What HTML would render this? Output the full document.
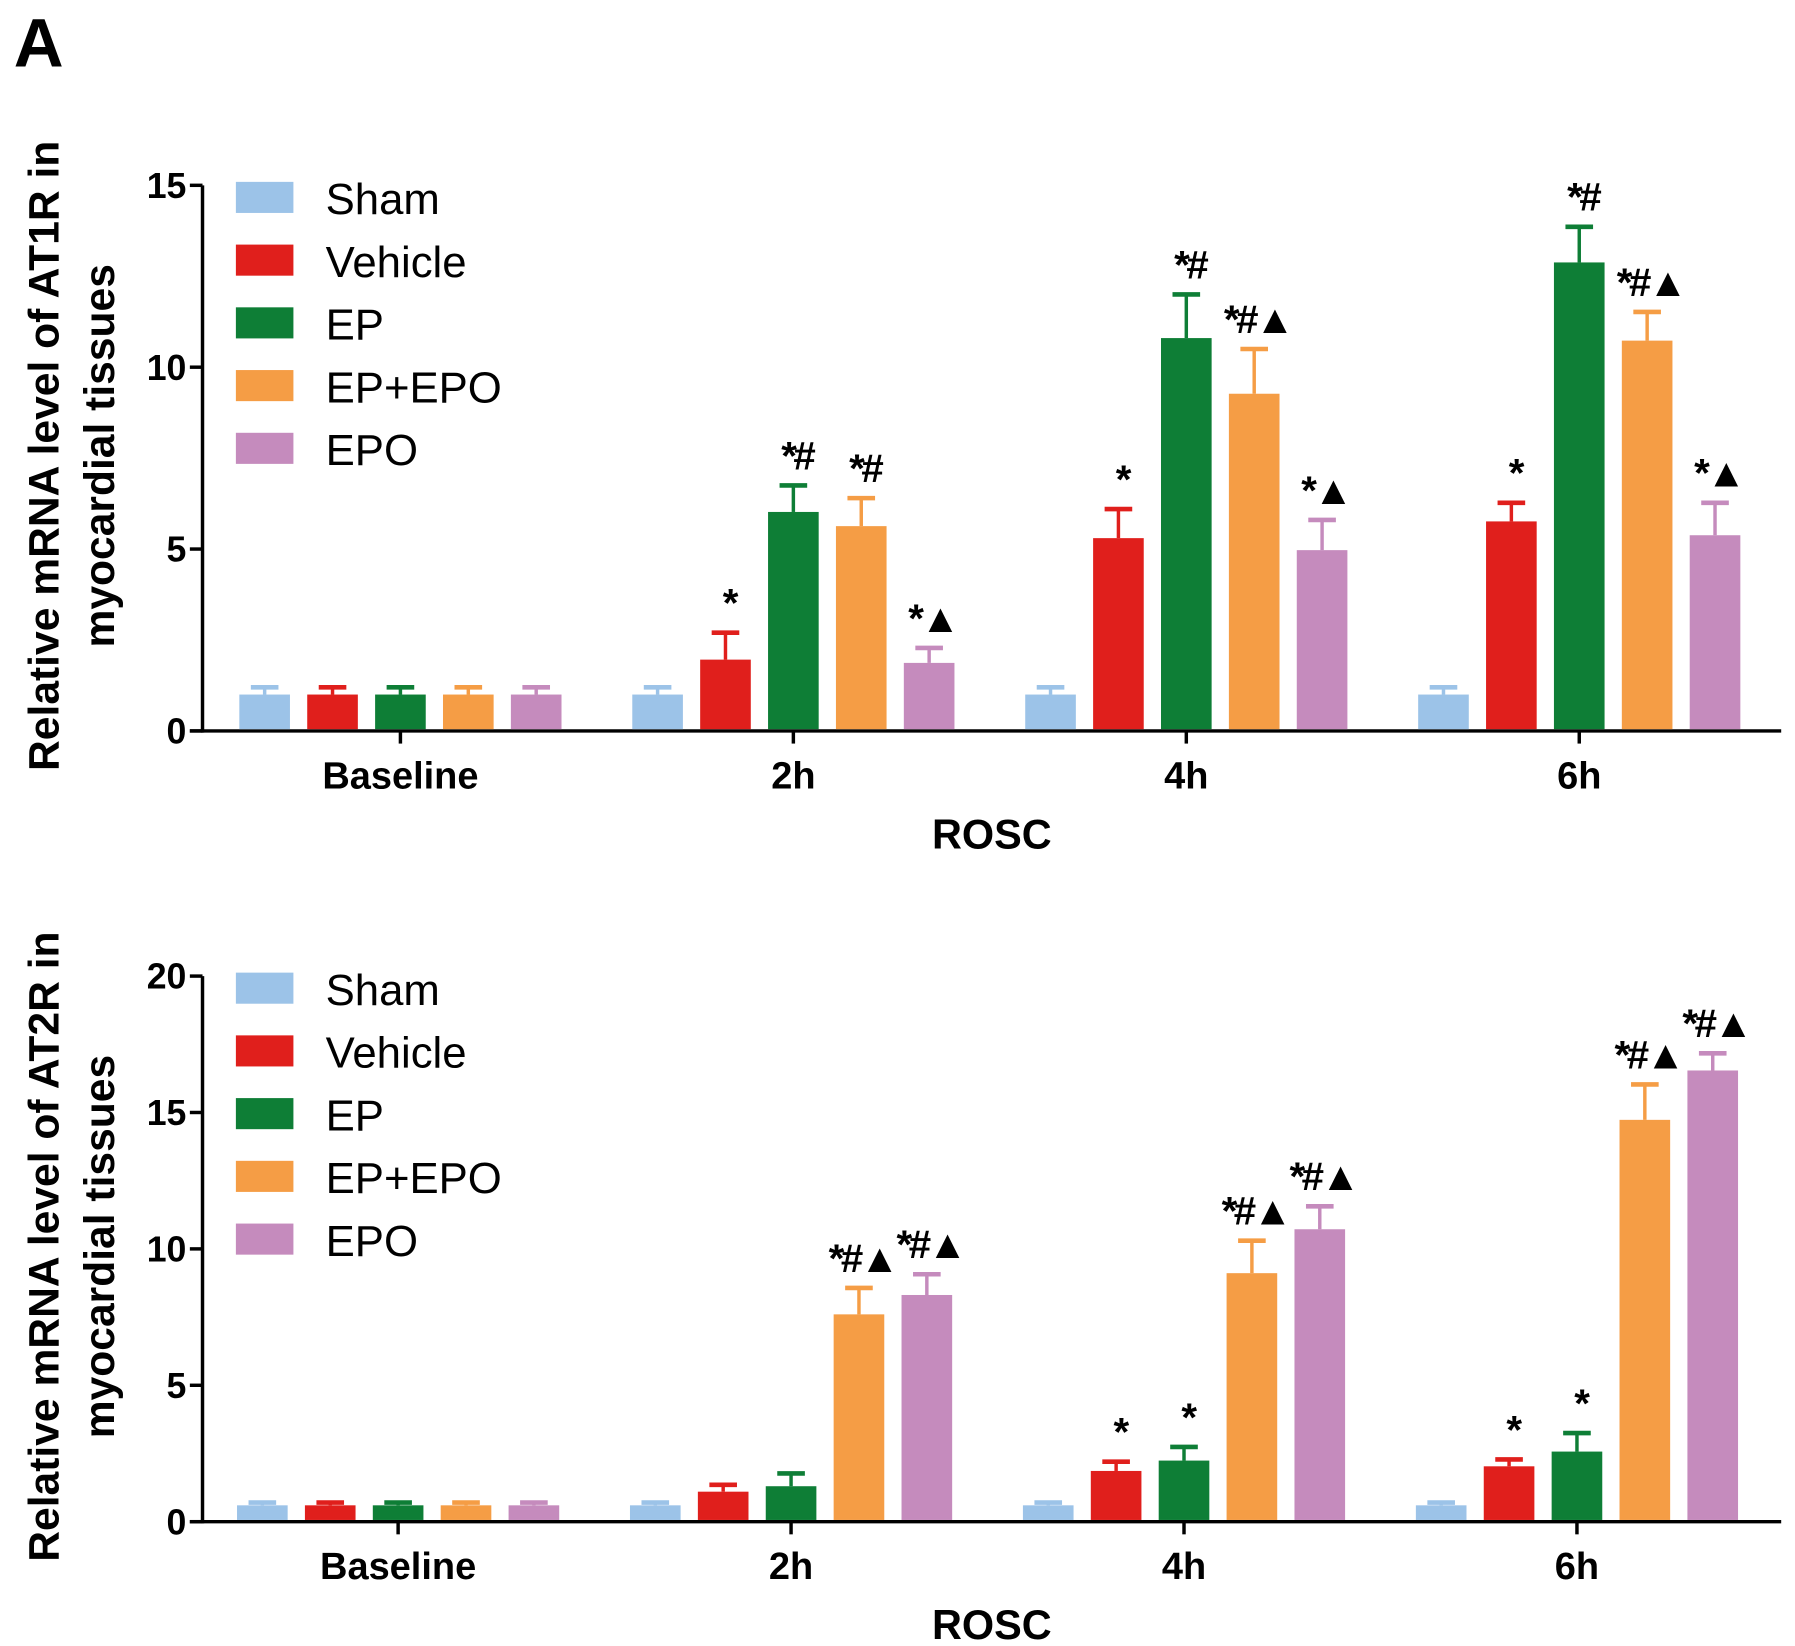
<!DOCTYPE html>
<html><head><meta charset="utf-8"><style>
html,body{margin:0;padding:0;background:#fff}
svg{display:block}
text{font-family:"Liberation Sans",Arial,sans-serif}
</style></head><body>
<svg id="fig" width="1795" height="1646" viewBox="0 0 1560 1430" preserveAspectRatio="none" xmlns="http://www.w3.org/2000/svg">
<text x="12" y="58" font-size="60" font-weight="bold">A</text>
</svg>
<script>
const categories = ["Baseline","2h","4h","6h"];
const groups = ["Sham","Vehicle","EP","EP+EPO","EPO"];
const colors = ["#9cc3e8","#e01f1c","#0e7e36","#f59d45","#c58bbd"];
// Top chart (AT1R)
const at1Sham = [1,1,1,1];
const at1Vehicle = [1,1.96,5.3,5.76];
const at1EP = [1,6.02,10.8,12.88];
const at1EPEPO = [1,5.63,9.27,10.73];
const at1EPO = [1,1.87,4.97,5.38];
const at1ErrSham=[0.2,0.2,0.2,0.2];
const at1ErrVehicle=[0.2,0.74,0.8,0.51];
const at1ErrEP=[0.2,0.73,1.2,0.98];
const at1ErrEPEPO=[0.2,0.77,1.23,0.79];
const at1ErrEPO=[0.2,0.41,0.83,0.89];
const at1Marks = [["","","","",""],["","*","*#","*#","*▲"],["","*","*#","*#▲","*▲"],["","*","*#","*#▲","*▲"]];
const at1Ticks = [0,5,10,15];
// Bottom chart (AT2R)
const at2Sham=[0.6,0.6,0.6,0.6];
const at2Vehicle=[0.6,1.1,1.86,2.03];
const at2EP=[0.6,1.3,2.24,2.57];
const at2EPEPO=[0.6,7.6,9.11,14.73];
const at2EPO=[0.6,8.31,10.72,16.54];
const at2ErrSham=[0.1,0.1,0.1,0.1];
const at2ErrVehicle=[0.1,0.25,0.34,0.25];
const at2ErrEP=[0.1,0.47,0.5,0.68];
const at2ErrEPEPO=[0.1,0.97,1.19,1.3];
const at2ErrEPO=[0.1,0.76,0.84,0.63];
const at2Marks=[["","","","",""],["","","","*#▲","*#▲"],["","*","*","*#▲","*#▲"],["","*","*","*#▲","*#▲"]];
const at2Ticks=[0,5,10,15,20];

const NS="http://www.w3.org/2000/svg";
const svg=document.getElementById('fig');
function el(tag,attrs,parent){const e=document.createElementNS(NS,tag);for(const k in attrs)e.setAttribute(k,attrs[k]);(parent||svg).appendChild(e);return e;}

function chart(cfg){
  const g=el('g',{});
  
  
  const y=v=>cfg.y0-(v/cfg.ymax)*(cfg.y0-cfg.ytop);
  const x=i=>cfg.cx0+i*341.5;
  const ya=el('line',{x1:cfg.ax,y1:cfg.ytop,x2:cfg.ax,y2:cfg.y0+1.5,stroke:'#000','stroke-width':3},g);
  
  const xa=el('line',{x1:165,y1:cfg.y0,x2:1548,y2:cfg.y0,stroke:'#000','stroke-width':3},g);
  
  cfg.ticks.forEach(t=>{
    el('line',{x1:cfg.ax-11,y1:y(t),x2:cfg.ax,y2:y(t),stroke:'#000','stroke-width':3},g);
    const tl=el('text',{x:cfg.ax-14,y:y(t)+11,'font-size':31,'font-weight':'bold','text-anchor':'end'},g);
    tl.textContent=t;
    
  });
  categories.forEach((c,i)=>{
    el('line',{x1:x(i),y1:cfg.y0,x2:x(i),y2:cfg.y0+11,stroke:'#000','stroke-width':3},g);
    const cl=el('text',{x:x(i),y:cfg.y0+50,'font-size':33,'font-weight':'bold','text-anchor':'middle'},g);
    cl.textContent=c;
    
    cfg.series.forEach((s,j)=>{
      const bx=x(i)+(j-2)*59, w=44;
      const v=s[i], e=cfg.errs[j][i];
      const eb=el('line',{x1:bx,y1:y(v),x2:bx,y2:y(v+e),stroke:colors[j],'stroke-width':3},g);
      
      el('line',{x1:bx-12,y1:y(v+e),x2:bx+12,y2:y(v+e),stroke:colors[j],'stroke-width':4},g);
      const r=el('rect',{x:bx-w/2,y:y(v),width:w,height:cfg.y0-1.5-y(v),fill:colors[j]},g);
      
      
      const m=cfg.marks[i][j];
      if(m){const a=el('text',{x:bx+3,y:y(v+e)-14,'font-size':35,'font-weight':'bold','text-anchor':'middle','letter-spacing':'-3'},g);
        a.textContent=m;}
    });
  });
  groups.forEach((n,j)=>{
    const ly=cfg.legY+j*54.5;
    const sw=el('rect',{x:205,y:ly-14,width:50,height:27,fill:colors[j]},g);
    
    const lt=el('text',{x:283,y:ly+14,'font-size':38},g);
    lt.textContent=n;
  });
  const xt=el('text',{x:862,y:cfg.y0+102,'font-size':36,'font-weight':'bold','text-anchor':'middle'},g);
  xt.textContent='ROSC';
  const yt=el('text',{transform:`translate(51,${cfg.titleY}) rotate(-90)`,'font-size':37,'font-weight':'bold','text-anchor':'middle'},g);
  yt.textContent=cfg.title1;
  const yt2=el('text',{transform:`translate(99,${cfg.titleY}) rotate(-90)`,'font-size':37,'font-weight':'bold','text-anchor':'middle'},g);
  yt2.textContent='myocardial tissues';
}
chart({name:'at1r-chart',y0:635,ytop:161,ymax:15,ax:176,cx0:348,ticks:at1Ticks,
  series:[at1Sham,at1Vehicle,at1EP,at1EPEPO,at1EPO],errs:[at1ErrSham,at1ErrVehicle,at1ErrEP,at1ErrEPEPO,at1ErrEPO],
  marks:at1Marks,legY:172,titleY:396,title1:'Relative mRNA level of AT1R in'});
chart({name:'at2r-chart',y0:1322,ytop:848,ymax:20,ax:176,cx0:346,ticks:at2Ticks,
  series:[at2Sham,at2Vehicle,at2EP,at2EPEPO,at2EPO],errs:[at2ErrSham,at2ErrVehicle,at2ErrEP,at2ErrEPEPO,at2ErrEPO],
  marks:at2Marks,legY:859,titleY:1083,title1:'Relative mRNA level of AT2R in'});
</script>
</body></html>
